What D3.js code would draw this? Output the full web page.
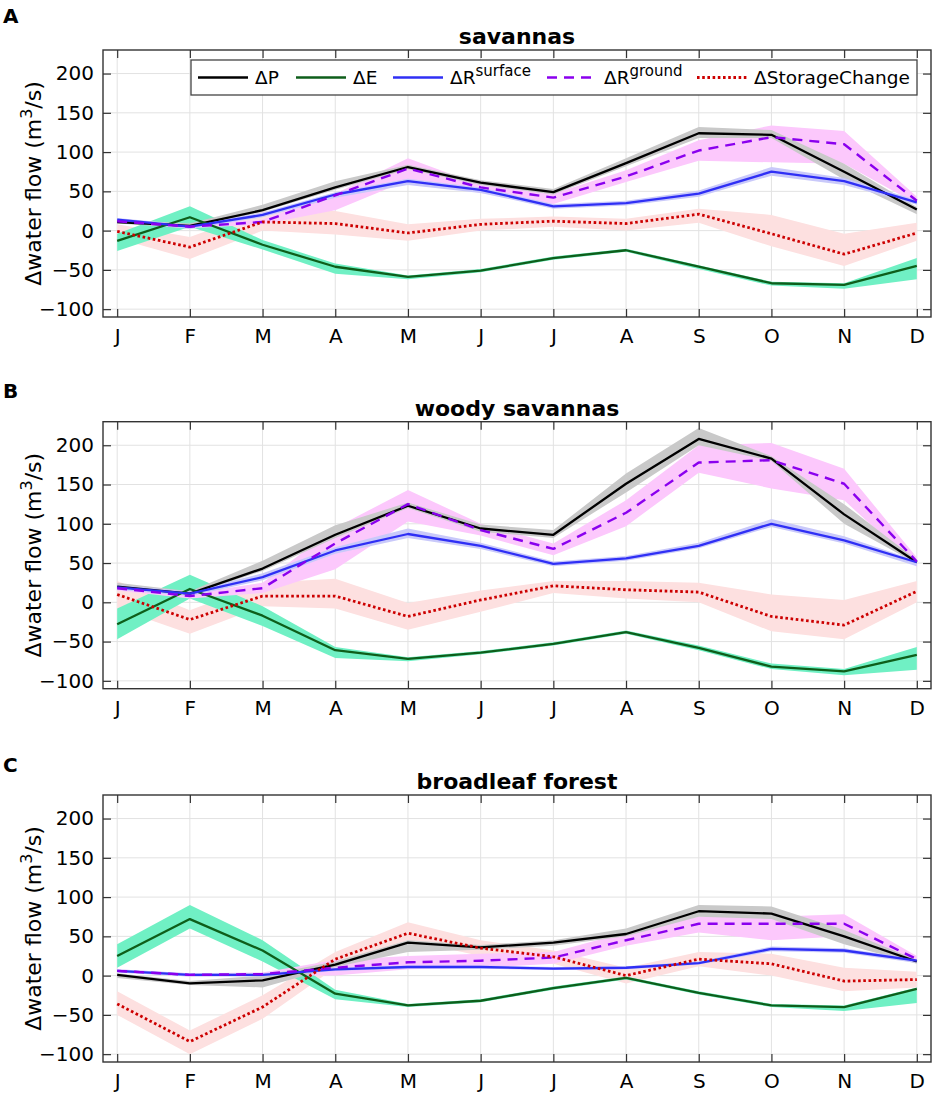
<!DOCTYPE html>
<html>
<head>
<meta charset="utf-8">
<script src="https://cdn.jsdelivr.net/npm/d3@7"></script>
<style>
  body { margin: 0; background: #fff; }
  svg { font-family: "DejaVu Sans", sans-serif; }
</style>
</head>
<body>
<svg id="chart" width="935" height="1096"></svg>
<script>
// month ticks
const months = ["J", "F", "M", "A", "M", "J", "J", "A", "S", "O", "N", "D"];
const yTicks = [-100, -50, 0, 50, 100, 150, 200];

// savannas
const savP    = [11, 6, 26, 55, 81, 61, 49, 86, 124, 122, 75, 27];
const savPlo  = [9, 3, 24, 52, 78, 58, 46, 82, 118, 118, 65, 21];
const savPhi  = [14, 9, 33, 63, 84, 64, 53, 92, 132, 128, 85, 30];
const savE    = [-13, 17, -18, -46, -59, -51, -35, -25, -46, -67, -69, -45];
const savElo  = [-26, 5, -24, -55, -62, -53, -37, -27, -49, -70, -74, -62];
const savEhi  = [-4, 31, -12, -42, -57, -49, -33, -23, -44, -65, -67, -35];
const savRs   = [14, 5, 20, 46, 63, 52, 31, 35, 47, 75, 63, 36];
const savRslo = [11, 2, 17, 42, 58, 48, 28, 32, 43, 70, 58, 33];
const savRshi = [16, 7, 23, 49, 66, 55, 34, 38, 51, 81, 67, 39];
const savRg   = [12, 5, 11, 45, 79, 55, 42, 69, 102, 119, 110, 38];
const savRglo = [10, 3, 8, 26, 64, 48, 34, 62, 89, 87, 85, 34];
const savRghi = [14, 7, 14, 47, 92, 58, 47, 77, 115, 134, 127, 43];
const savSC   = [-1, -21, 11, 9, -3, 8, 12, 9, 21, -4, -30, -3];
const savSClo = [-10, -36, 0, -5, -13, 0, 5, 0, 10, -20, -45, -13];
const savSChi = [8, -8, 25, 25, 8, 15, 18, 15, 28, 20, -4, 10];

// woody savannas
const woodP    = [20, 11, 43, 86, 123, 94, 86, 151, 208, 183, 112, 51];
const woodPlo  = [18, 9, 40, 82, 120, 90, 82, 140, 200, 180, 100, 49];
const woodPhi  = [25, 14, 53, 98, 127, 99, 92, 164, 222, 186, 125, 54];
const woodE    = [-28, 17, -17, -61, -72, -64, -53, -38, -58, -82, -88, -67];
const woodElo  = [-47, 5, -30, -71, -75, -66, -55, -40, -61, -85, -93, -86];
const woodEhi  = [-8, 35, -5, -57, -70, -62, -51, -36, -55, -78, -85, -57];
const woodRs   = [19, 11, 32, 66, 87, 72, 49, 56, 72, 100, 79, 51];
const woodRslo = [16, 8, 28, 62, 82, 68, 46, 53, 69, 96, 75, 46];
const woodRshi = [22, 14, 37, 70, 94, 76, 52, 59, 76, 106, 84, 53];
const woodRg   = [18, 8, 18, 75, 125, 92, 68, 114, 178, 181, 151, 52];
const woodRglo = [15, 5, 12, 42, 103, 85, 60, 97, 165, 145, 130, 45];
const woodRghi = [21, 11, 25, 95, 143, 100, 75, 130, 200, 203, 170, 57];
const woodSC   = [10, -22, 8, 8, -18, 3, 21, 16, 13, -18, -29, 14];
const woodSClo = [-8, -40, -5, -8, -35, -12, 12, 5, 0, -37, -47, 0];
const woodSChi = [27, -10, 25, 30, -1, 15, 27, 27, 25, 10, 3, 27];

// broadleaf forest
const bfP    = [1, -10, -6, 14, 42, 36, 42, 53, 82, 79, 50, 18];
const bfPlo  = [-3, -12, -15, 11, 30, 33, 38, 50, 75, 72, 40, 15];
const bfPhi  = [3, -7, 0, 18, 45, 39, 45, 60, 90, 88, 58, 20];
const bfE    = [25, 72, 32, -23, -38, -32, -16, -3, -22, -38, -40, -17];
const bfElo  = [10, 60, 18, -30, -40, -34, -18, -5, -24, -40, -45, -35];
const bfEhi  = [40, 90, 45, -18, -36, -30, -14, -1, -20, -36, -38, -15];
const bfRs   = [6, 1, 1, 8, 11, 11, 9, 10, 16, 34, 32, 19];
const bfRslo = [4, -1, -1, 6, 9, 9, 7, 8, 14, 31, 29, 16];
const bfRshi = [8, 3, 3, 10, 13, 13, 11, 12, 18, 37, 35, 21];
const bfRg   = [6, 1, 2, 10, 17, 19, 23, 45, 66, 66, 66, 21];
const bfRglo = [4, -1, 0, 0, 8, 10, 15, 38, 55, 45, 50, 17];
const bfRghi = [8, 3, 4, 20, 25, 28, 30, 55, 75, 75, 78, 25];
const bfSC   = [-36, -84, -40, 21, 54, 35, 24, 0, 21, 15, -7, -5];
const bfSClo = [-50, -100, -55, 10, 45, 25, 15, -10, 12, 0, -20, -15];
const bfSChi = [-20, -70, -25, 30, 68, 45, 32, 10, 30, 28, 10, 5];

// series styles, in legend order
const series = [
    {key: "P",  name: "ΔP",             sup: "",        line: "#000000", band: "#c9c9c9", width: 2.3, dash: null},
    {key: "E",  name: "ΔE",             sup: "",        line: "#0e5e1a", band: "#70f0c4", width: 2.3, dash: null},
    {key: "Rs", name: "ΔR",             sup: "surface", line: "#2f2ff5", band: "#c9c9fa", width: 2.3, dash: null},
    {key: "Rg", name: "ΔR",             sup: "ground",  line: "#8a00ee", band: "#fcc8fc", width: 2.4, dash: "10,7"},
    {key: "SC", name: "ΔStorageChange", sup: "",        line: "#cc0000", band: "#fde0e0", width: 2.8, dash: "2.6,2.6"}
];
const bandOrder = ["SC", "E", "Rg", "P", "Rs"];

const panels = [
    {letter: "A", title: "savannas", top: 50, letterY: 23, legend: true,
     mean: {P: savP, E: savE, Rs: savRs, Rg: savRg, SC: savSC},
     lo: {P: savPlo, E: savElo, Rs: savRslo, Rg: savRglo, SC: savSClo},
     hi: {P: savPhi, E: savEhi, Rs: savRshi, Rg: savRghi, SC: savSChi}},
    {letter: "B", title: "woody savannas", top: 421.7, letterY: 398, legend: false,
     mean: {P: woodP, E: woodE, Rs: woodRs, Rg: woodRg, SC: woodSC},
     lo: {P: woodPlo, E: woodElo, Rs: woodRslo, Rg: woodRglo, SC: woodSClo},
     hi: {P: woodPhi, E: woodEhi, Rs: woodRshi, Rg: woodRghi, SC: woodSChi}},
    {letter: "C", title: "broadleaf forest", top: 795, letterY: 771.7, legend: false,
     mean: {P: bfP, E: bfE, Rs: bfRs, Rg: bfRg, SC: bfSC},
     lo: {P: bfPlo, E: bfElo, Rs: bfRslo, Rg: bfRglo, SC: bfSClo},
     hi: {P: bfPhi, E: bfEhi, Rs: bfRshi, Rg: bfRghi, SC: bfSChi}}
];

let svg = d3.select("#chart");

let left = 103, right = 931, plotH = 267;

let x = d3.scaleLinear().domain([0.805, 12.195]).range([left, right]);

panels.forEach(function(p) {

    let y = d3.scaleLinear().domain([-110, 230]).range([p.top + plotH, p.top]);
    let g = svg.append("g");

    // panel letter and title
    svg.append("text")
        .attr("x", 3).attr("y", p.letterY)
        .attr("font-size", 20).attr("font-weight", "bold")
        .text(p.letter);

    g.append("text")
        .attr("x", (left + right) / 2).attr("y", p.top - 6)
        .attr("text-anchor", "middle")
        .attr("font-size", 22).attr("font-weight", "bold")
        .text(p.title);

    // grid
    g.append("g").selectAll("line").data(d3.range(1, 13)).enter().append("line")
        .attr("x1", d => x(d)).attr("x2", d => x(d))
        .attr("y1", p.top).attr("y2", p.top + plotH)
        .attr("stroke", "#e2e2e2").attr("stroke-width", 1);
    g.append("g").selectAll("line").data(yTicks).enter().append("line")
        .attr("x1", left).attr("x2", right)
        .attr("y1", d => y(d)).attr("y2", d => y(d))
        .attr("stroke", "#e2e2e2").attr("stroke-width", 1);

    // bands
    let idx = d3.range(12);
    bandOrder.forEach(function(k) {
        let s = series.find(d => d.key === k);
        let area = d3.area()
            .x(i => x(i + 1))
            .y0(i => y(p.lo[k][i]))
            .y1(i => y(p.hi[k][i]));
        g.append("path").datum(idx)
            .attr("d", area)
            .attr("fill", s.band)
            .attr("stroke", "none");
    });

    // mean lines
    series.forEach(function(s) {
        let line = d3.line()
            .x(i => x(i + 1))
            .y(i => y(p.mean[s.key][i]));
        g.append("path").datum(idx)
            .attr("d", line)
            .attr("fill", "none")
            .attr("stroke", s.line)
            .attr("stroke-width", s.width)
            .attr("stroke-dasharray", s.dash)
            .attr("stroke-linejoin", "round");
    });

    // axes, ticks pointing inward
    let xTicks = d3.range(1, 13);
    g.append("g")
        .attr("transform", "translate(0," + (p.top + plotH) + ")")
        .call(d3.axisBottom(x).tickValues(xTicks).tickFormat(d => months[d - 1])
            .tickSizeInner(-8).tickSizeOuter(0).tickPadding(11.8));
    g.append("g")
        .attr("transform", "translate(0," + p.top + ")")
        .call(d3.axisTop(x).tickValues(xTicks).tickFormat("")
            .tickSizeInner(-8).tickSizeOuter(0));
    g.append("g")
        .attr("transform", "translate(" + left + ",0)")
        .call(d3.axisLeft(y).tickValues(yTicks)
            .tickSizeInner(-8).tickSizeOuter(0).tickPadding(9));
    g.append("g")
        .attr("transform", "translate(" + right + ",0)")
        .call(d3.axisRight(y).tickValues(yTicks).tickFormat("")
            .tickSizeInner(-8).tickSizeOuter(0));

    g.selectAll(".domain").remove();
    g.selectAll(".tick line").attr("stroke", "#333").attr("stroke-width", 1.2);
    g.selectAll(".tick text").attr("font-size", 20).attr("fill", "#000")
        .attr("font-family", "DejaVu Sans, sans-serif");

    // frame
    g.append("rect")
        .attr("x", left).attr("y", p.top)
        .attr("width", right - left).attr("height", plotH)
        .attr("fill", "none").attr("stroke", "#333").attr("stroke-width", 1.4);

    // y label
    let yl = g.append("text")
        .attr("transform", "translate(41," + (p.top + plotH / 2) + ") rotate(-90)")
        .attr("text-anchor", "middle")
        .attr("font-size", 22);
    yl.append("tspan").text("Δwater flow (m");
    yl.append("tspan").attr("font-size", 16).attr("dy", -9).text("3");
    yl.append("tspan").attr("dy", 9).text("/s)");

    // legend
    if (p.legend) {
        let lg = g.append("g");
        lg.append("rect")
            .attr("x", 191).attr("y", 60).attr("width", 726).attr("height", 35)
            .attr("fill", "#fff").attr("stroke", "#444").attr("stroke-width", 1.3);
        let starts = [198, 296, 393, 547, 697];
        series.forEach(function(s, i) {
            let x0 = starts[i];
            lg.append("line")
                .attr("x1", x0).attr("x2", x0 + 50)
                .attr("y1", 77.5).attr("y2", 77.5)
                .attr("stroke", s.line)
                .attr("stroke-width", s.width)
                .attr("stroke-dasharray", s.dash);
            let t = lg.append("text")
                .attr("x", x0 + 57).attr("y", 84)
                .attr("font-size", 18.5);
            t.append("tspan").text(s.name);
            if (s.sup) {
                t.append("tspan").attr("font-size", 15).attr("dy", -8).text(s.sup);
            }
        });
    }
});
</script>
</body>
</html>
